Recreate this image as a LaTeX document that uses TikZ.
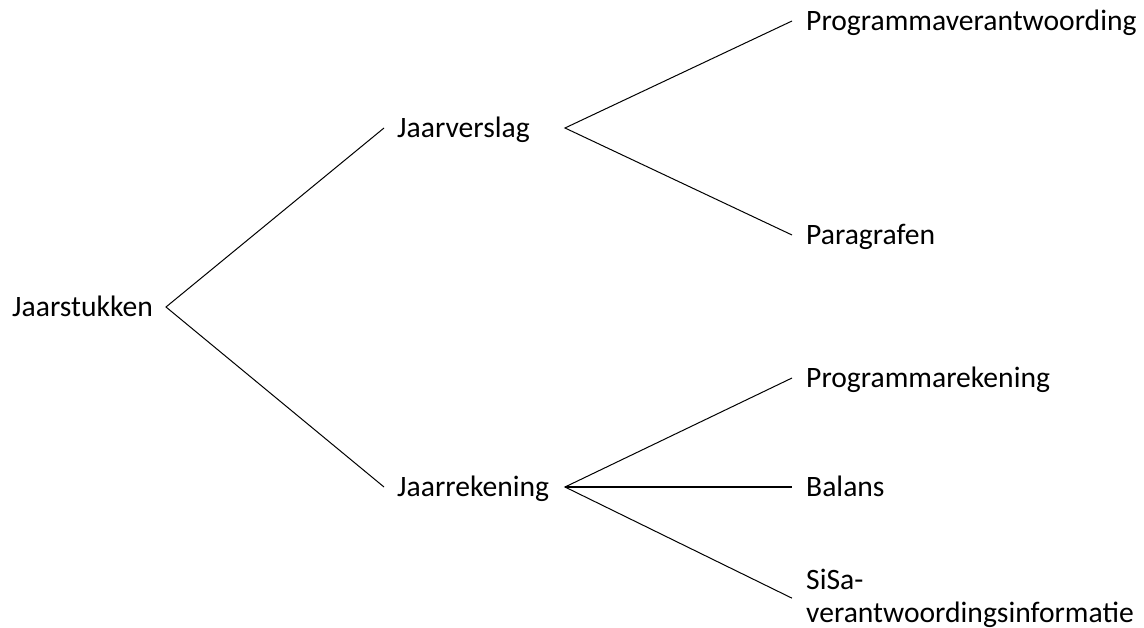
\documentclass[tikz,border=0pt]{standalone}
\usepackage{fontspec}
\setmainfont{Carlito}
\begin{document}
\begin{tikzpicture}[x=1pt,y=-1pt,
  lbl/.style={inner ysep=0pt, font=\fontsize{29.6}{32}\selectfont, text height=18.4pt, text depth=0pt},
  lbl2/.style={inner ysep=0pt, font=\fontsize{29.6}{32.5}\selectfont, align=left},
  conn/.style={draw=black, line width=1pt}]
\useasboundingbox (0,0) rectangle (1144,628);
% level 0
\node[lbl, anchor=east, inner xsep=13pt] (js) at (166,307) {Jaarstukken};
% level 1
\node[lbl, anchor=west, inner xsep=13pt] (jv) at (384,128) {Jaarverslag};
\node[lbl, anchor=west, inner xsep=13pt] (jr) at (384,487) {Jaarrekening};
\coordinate (jvout) at (565,128);
\coordinate (jrout) at (565,487);
% level 2
\node[lbl, anchor=west, inner xsep=14pt] (pv) at (792,21) {Programmaverantwoording};
\node[lbl, anchor=west, inner xsep=14pt] (pa) at (792,235) {Paragrafen};
\node[lbl, anchor=west, inner xsep=14pt] (pr) at (792,378) {Programmarekening};
\node[lbl, anchor=west, inner xsep=14pt] (ba) at (792,487) {Balans};
\node[lbl2, anchor=north west, inner xsep=14pt] (si) at (792,569) {SiSa-\\verantwoordingsinformatie};
% connectors
\draw[conn] (jv.west) -- (js.east) -- (jr.west);
\draw[conn] (pv.west) -- (jvout) -- (pa.west);
\draw[conn] (pr.west) -- (jrout) -- (si.west);
\draw[conn, line width=1.4pt] (jrout) -- (ba.west);
\end{tikzpicture}
\end{document}
